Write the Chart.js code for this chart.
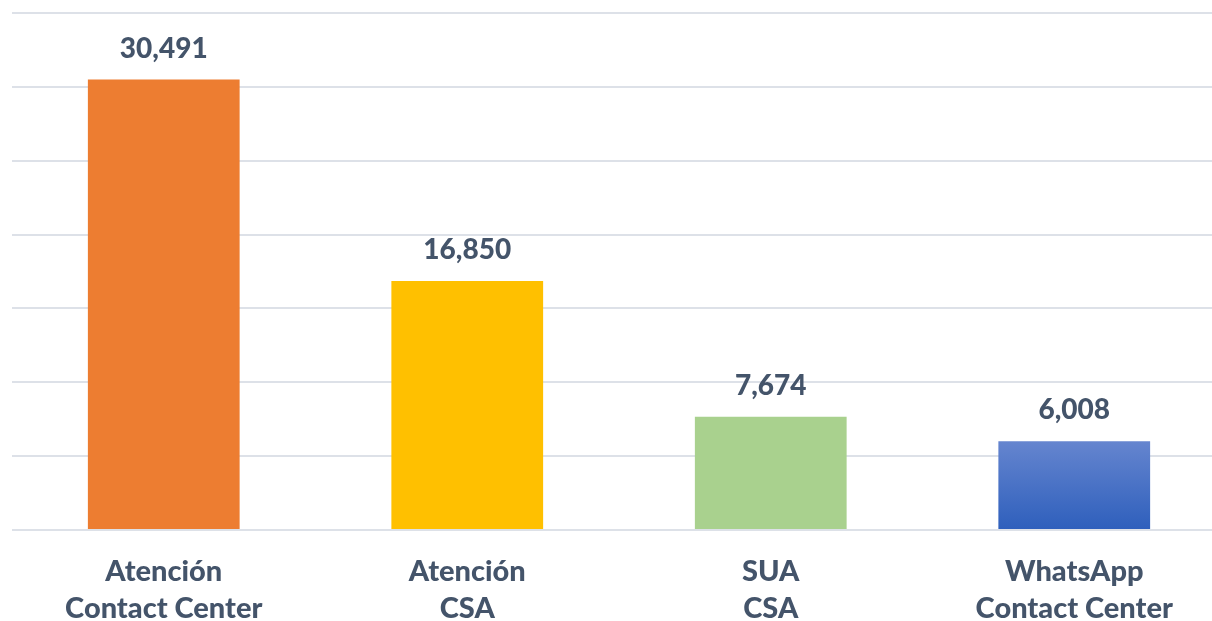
<!DOCTYPE html>
<html>
<head>
<meta charset="utf-8">
<script src="https://cdn.jsdelivr.net/npm/chart.js@4/dist/chart.umd.min.js"></script>
<style>
  html, body { margin: 0; padding: 0; background: #ffffff; overflow: hidden; }
  #wrap { position: relative; width: 1226px; height: 621px; }
</style>
</head>
<body>
<div id="wrap"><canvas id="chart"></canvas></div>
<script>
// Contact volumes by service channel
const categories = [
  ['Atención', 'Contact Center'],
  ['Atención', 'CSA'],
  ['SUA', 'CSA'],
  ['WhatsApp', 'Contact Center']
];
const values = [30491, 16850, 7674, 6008];
const barColors = ['#ED7D31', '#FFC000', '#A9D18E', null];

const TEXT = '#44546A';
const FONT = 'Lato, "Open Sans", "DejaVu Sans", sans-serif';

// Value labels above each bar
const valueLabels = {
  id: 'valueLabels',
  afterDatasetsDraw(chart) {
    const ctx = chart.ctx;
    const meta = chart.getDatasetMeta(0);
    ctx.save();
    ctx.font = '900 28px ' + FONT;
    ctx.fillStyle = TEXT;
    ctx.textAlign = 'center';
    ctx.textBaseline = 'middle';
    meta.data.forEach((bar, i) => {
      ctx.fillText(values[i].toLocaleString('en-US'), bar.x, bar.y - 31);
    });
    ctx.restore();
  }
};

function barFill(context) {
  const i = context.dataIndex;
  if (barColors[i]) return barColors[i];
  const chart = context.chart;
  const y = chart.scales && chart.scales.y;
  if (!chart.chartArea || !y) return '#4472C4';
  const top = y.getPixelForValue(values[i]);
  const bottom = y.getPixelForValue(0);
  const g = chart.ctx.createLinearGradient(0, top, 0, bottom);
  g.addColorStop(0, '#6585CF');
  g.addColorStop(1, '#2E5FBC');
  return g;
}

new Chart(document.getElementById('chart'), {
  type: 'bar',
  data: {
    labels: categories,
    datasets: [{
      data: values,
      backgroundColor: barFill,
      borderWidth: 0,
      categoryPercentage: 1.0,
      barPercentage: 0.5
    }]
  },
  options: {
    responsive: true,
    maintainAspectRatio: false,
    animation: false,
    layout: { padding: { left: 12, right: 0, top: 13, bottom: 0 } },
    plugins: { legend: { display: false }, tooltip: { enabled: false } },
    scales: {
      x: {
        grid: { display: false, drawTicks: false },
        border: { display: false },
        ticks: {
          color: TEXT,
          padding: 23,
          maxRotation: 0,
          autoSkip: false,
          font: { family: FONT, size: 29, weight: '900', lineHeight: 1.276 }
        },
        afterFit(scale) { scale.height = 91; }
      },
      y: {
        min: 0,
        max: 35000,
        ticks: { display: false, stepSize: 5000 },
        grid: { color: '#DDE1E8', lineWidth: 2, drawTicks: false },
        border: { display: false },
        afterFit(scale) { scale.width = 0; }
      }
    }
  },
  plugins: [valueLabels]
});
</script>
</body>
</html>
